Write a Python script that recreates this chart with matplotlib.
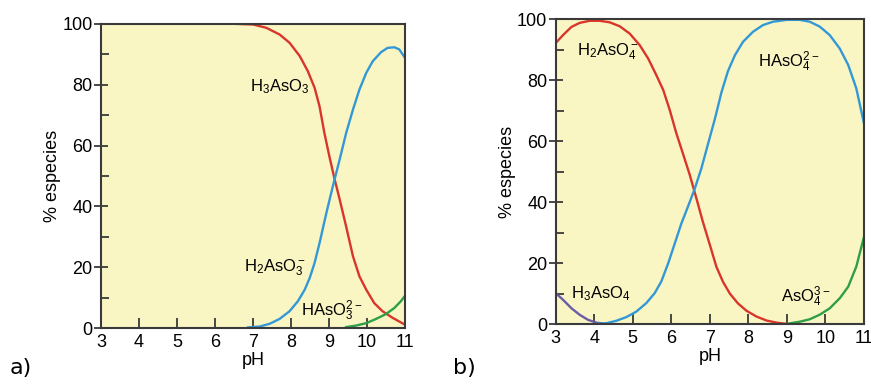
import matplotlib.pyplot as plt
from matplotlib.ticker import MultipleLocator

plt.rcParams['font.family'] = ['Liberation Sans', 'DejaVu Sans']
plt.rcParams['mathtext.default'] = 'regular'

# a) arsenious acid species (pH, % of total)
ph_a_h3 = [6.56, 7.0, 7.35, 7.70, 7.96, 8.23, 8.44, 8.62, 8.75, 8.88, 9.01, 9.14,
           9.28, 9.45, 9.63, 9.80, 9.98, 10.19, 10.41, 10.68, 11.0]
pct_a_h3 = [100, 99.8, 98.7, 96.5, 93.8, 89.4, 84.5, 79.0, 72.9, 64.0, 56.4, 49.3,
            42.3, 33.4, 23.6, 17.0, 12.6, 8.2, 5.5, 3.3, 1.1]

ph_a_h2 = [6.87, 7.18, 7.44, 7.70, 7.96, 8.18, 8.36, 8.49, 8.62, 8.75, 8.93, 9.10,
           9.28, 9.45, 9.63, 9.80, 9.98, 10.15, 10.37, 10.54, 10.72, 10.85, 11.0]
pct_a_h2 = [0.2, 0.5, 1.4, 3.0, 5.5, 8.8, 12.6, 16.4, 21.4, 27.9, 37.8, 46.6,
            55.4, 64.1, 71.8, 78.4, 83.9, 87.7, 90.7, 92.1, 92.3, 91.6, 88.8]

ph_a_h1 = [9.45, 9.71, 9.98, 10.24, 10.50, 10.72, 10.89, 11.0]
pct_a_h1 = [0.3, 0.8, 1.6, 3.0, 4.6, 6.6, 8.8, 10.6]

# b) arsenic acid species (pH, % of total)
ph_b_h3 = [3.0, 3.19, 3.41, 3.62, 3.84, 4.06, 4.31]
pct_b_h3 = [10.2, 8.0, 5.2, 3.1, 1.4, 0.5, 0.1]

ph_b_h2 = [3.0, 3.19, 3.41, 3.62, 3.88, 4.14, 4.40, 4.66, 4.92, 5.18, 5.40, 5.61,
           5.79, 5.96, 6.13, 6.30, 6.48, 6.65, 6.82, 7.0, 7.17, 7.34, 7.52, 7.73,
           7.95, 8.21, 8.47, 8.73, 8.99]
pct_b_h2 = [92.2, 94.8, 97.5, 98.8, 99.5, 99.5, 99.0, 97.7, 95.3, 91.5, 87.1, 81.7,
            76.8, 70.2, 62.6, 56.0, 48.9, 41.3, 33.5, 26.0, 18.8, 13.9, 10.0, 6.8,
            4.4, 2.5, 1.2, 0.5, 0.1]

ph_b_h1 = [4.06, 4.31, 4.57, 4.83, 5.09, 5.35, 5.57, 5.74, 5.92, 6.09, 6.26, 6.43,
           6.61, 6.78, 6.95, 7.13, 7.30, 7.47, 7.65, 7.86, 8.12, 8.38, 8.64, 8.99,
           9.33, 9.59, 9.85, 10.11, 10.37, 10.59, 10.80, 11.0]
pct_b_h1 = [0.1, 0.3, 1.1, 2.3, 4.1, 6.9, 10.2, 14.0, 20.0, 26.5, 33.0, 38.5,
            44.5, 51.1, 59.0, 67.3, 76.0, 83.0, 88.2, 92.6, 95.9, 98.1, 99.2, 99.8,
            99.8, 99.2, 97.6, 94.8, 90.4, 85.0, 77.3, 65.8]

ph_b_h0 = [8.99, 9.33, 9.59, 9.85, 10.11, 10.37, 10.59, 10.80, 11.0]
pct_b_h0 = [0.1, 0.8, 1.6, 3.1, 5.2, 8.5, 12.3, 18.9, 28.7]

RED = '#d8352b'
BLUE = '#3398d6'
GREEN = '#2e9e48'
PURPLE = '#6a5ba6'
BG = '#faf6c4'
EDGE = '#3a3a3a'


def style_axes(ax):
    ax.set_facecolor(BG)
    ax.set_xlim(3, 11)
    ax.set_ylim(0, 100)
    ax.xaxis.set_major_locator(MultipleLocator(1))
    ax.yaxis.set_major_locator(MultipleLocator(20))
    ax.yaxis.set_minor_locator(MultipleLocator(10))
    ax.tick_params(axis='x', direction='in', length=7, width=1.3, color=EDGE,
                   labelsize=13, pad=4)
    ax.tick_params(axis='y', which='major', direction='inout', length=10, width=1.3,
                   color=EDGE, labelsize=13, pad=1)
    ax.tick_params(axis='y', which='minor', direction='in', length=6, width=1.3, color=EDGE)
    for s in ax.spines.values():
        s.set_color(EDGE)
        s.set_linewidth(1.5)
    ax.set_xlabel('pH', fontsize=13, labelpad=1)
    ax.set_ylabel('% especies', fontsize=13, labelpad=1)


fig = plt.figure(figsize=(8.71, 3.85), dpi=100)
ax1 = fig.add_axes([0.116, 0.148, 0.349, 0.790])
ax2 = fig.add_axes([0.638, 0.158, 0.354, 0.792])

lw = 1.7
ax1.plot(ph_a_h3, pct_a_h3, color=RED, lw=lw)
ax1.plot(ph_a_h2, pct_a_h2, color=BLUE, lw=lw)
ax1.plot(ph_a_h1, pct_a_h1, color=GREEN, lw=lw)
style_axes(ax1)
ax1.text(6.91, 79.5, r'H$_3$AsO$_3$', fontsize=12, va='center')
ax1.text(6.76, 19.7, r'H$_2$AsO$_3^-$', fontsize=12, va='center')
ax1.text(8.27, 5.5, r'HAsO$_3^{2-}$', fontsize=12, va='center')

ax2.plot(ph_b_h3, pct_b_h3, color=PURPLE, lw=lw)
ax2.plot(ph_b_h2, pct_b_h2, color=RED, lw=lw)
ax2.plot(ph_b_h1, pct_b_h1, color=BLUE, lw=lw)
ax2.plot(ph_b_h0, pct_b_h0, color=GREEN, lw=lw)
style_axes(ax2)
ax2.text(3.54, 89.3, r'H$_2$AsO$_4^-$', fontsize=12, va='center')
ax2.text(8.25, 86, r'HAsO$_4^{2-}$', fontsize=12, va='center')
ax2.text(3.39, 10, r'H$_3$AsO$_4$', fontsize=12, va='center')
ax2.text(8.84, 9, r'AsO$_4^{3-}$', fontsize=12, va='center')

fig.text(0.011, 0.045, 'a)', fontsize=16, family='DejaVu Sans', va='center')
fig.text(0.520, 0.045, 'b)', fontsize=16, family='DejaVu Sans', va='center')

fig.savefig('out.png', dpi=100)
